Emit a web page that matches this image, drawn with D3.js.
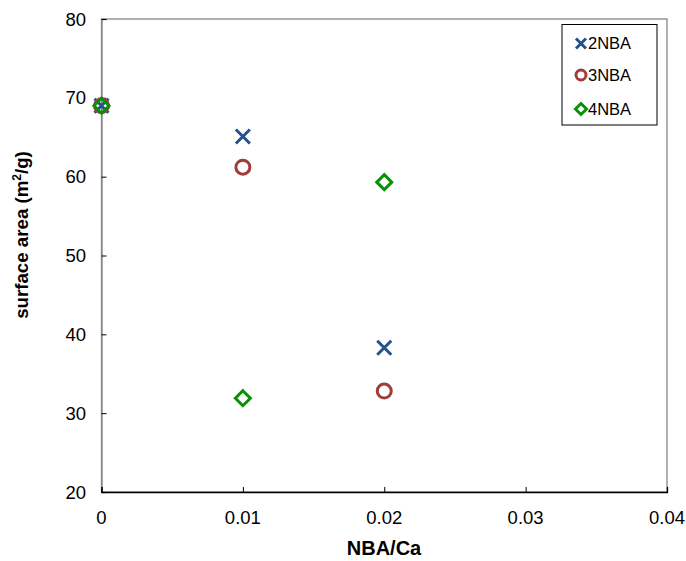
<!DOCTYPE html>
<html>
<head>
<meta charset="UTF-8">
<title>surface area</title>
<style>
  body { margin: 0; background: #fff; }
  text { font-family: "Liberation Sans", Arial, sans-serif; }
</style>
</head>
<body>
<script src="https://cdn.jsdelivr.net/npm/d3@7"></script>
<script>
// data
var xValues = [0, 0.01, 0.02]
var nba2 = [69, 65.1, 38.3]
var nba3 = [69, 61.2, 32.8]
var nba4 = [69, 31.9, 59.3]
var seriesNames = ["2NBA", "3NBA", "4NBA"]
var xTicks = [0, 0.01, 0.02, 0.03, 0.04]
var yTicks = [20, 30, 40, 50, 60, 70, 80]

var width = 686, height = 561
var margin = {top: 19, right: 19, bottom: 69, left: 101.5}

var svg = d3.select("body").append("svg")
  .attr("width", width).attr("height", height)

var x = d3.scaleLinear().domain([0, 0.04]).range([margin.left, width - margin.right])
var y = d3.scaleLinear().domain([20, 80]).range([height - margin.bottom, margin.top])

// frame
svg.append("rect")
  .attr("x", x(0)).attr("y", y(80))
  .attr("width", x(0.04) - x(0)).attr("height", y(20) - y(80))
  .attr("fill", "none").attr("stroke", "#868686").attr("stroke-width", 1.3)

// y axis
var yAxis = svg.append("g")
  .attr("transform", "translate(" + x(0) + ",0)")
  .call(d3.axisRight(y).tickValues(yTicks).tickSize(5).tickFormat(""))
yAxis.select(".domain").attr("stroke", "#868686").attr("stroke-width", 1.3)
yAxis.selectAll(".tick line").attr("stroke", "#000")
svg.selectAll(".ylab").data(yTicks).enter().append("text")
  .attr("x", 86).attr("y", function(d){ return y(d) })
  .attr("dy", "0.36em").attr("text-anchor", "end")
  .attr("font-size", "18.5px").text(function(d){ return d })

// x axis
var xAxis = svg.append("g")
  .attr("transform", "translate(0," + y(20) + ")")
  .call(d3.axisTop(x).tickValues(xTicks).tickSize(5).tickFormat(""))
xAxis.select(".domain").attr("stroke", "#000").attr("stroke-width", 1.3)
xAxis.selectAll(".tick line").attr("stroke", "#000")
svg.selectAll(".xlab").data(xTicks).enter().append("text")
  .attr("x", function(d){ return x(d) }).attr("y", 524)
  .attr("text-anchor", "middle")
  .attr("font-size", "18.5px").text(function(d){ return d })

// axis titles
svg.append("text")
  .attr("x", 384).attr("y", 555)
  .attr("text-anchor", "middle").attr("font-size", "20px").attr("font-weight", "bold")
  .text("NBA/Ca")
var yt = svg.append("text")
  .attr("transform", "translate(28,235) rotate(-90)")
  .attr("text-anchor", "middle").attr("font-size", "18.7px").attr("font-weight", "bold")
yt.append("tspan").text("surface area (m")
yt.append("tspan").attr("font-size", "12px").attr("dy", "-7").text("2")
yt.append("tspan").attr("dy", "7").text("/g)")

// markers
function drawX(g, cx, cy, r, color) {
  g.append("path")
    .attr("d", "M" + (cx - r) + "," + (cy - r) + "L" + (cx + r) + "," + (cy + r) +
               "M" + (cx - r) + "," + (cy + r) + "L" + (cx + r) + "," + (cy - r))
    .attr("stroke", color).attr("stroke-width", 3).attr("fill", "none")
}
function drawO(g, cx, cy, r, color) {
  g.append("circle").attr("cx", cx).attr("cy", cy).attr("r", r)
    .attr("stroke", color).attr("stroke-width", 3).attr("fill", "none")
}
function drawD(g, cx, cy, r, color) {
  g.append("path")
    .attr("d", "M" + cx + "," + (cy - r) + "L" + (cx + r) + "," + cy +
               "L" + cx + "," + (cy + r) + "L" + (cx - r) + "," + cy + "Z")
    .attr("stroke", color).attr("stroke-width", 3).attr("fill", "none")
}

var colors = ["#23528C", "#A03D3A", "#079107"]
var drawers = [drawX, drawO, drawD]
var series = [nba2, nba3, nba4]
var sizes = [7, 7, 7.5]

var marks = svg.append("g")
series.forEach(function(vals, s) {
  vals.forEach(function(v, i) {
    drawers[s](marks, x(xValues[i]), y(v), sizes[s], colors[s])
  })
})

// legend
var lg = svg.append("g")
lg.append("rect").attr("x", 562).attr("y", 24.5).attr("width", 95).attr("height", 100.5)
  .attr("fill", "#fff").attr("stroke", "#000").attr("stroke-width", 1)
var legendY = [43.5, 75, 109]
seriesNames.forEach(function(name, s) {
  drawers[s](lg, 581, legendY[s], s == 2 ? 5.5 : 5, colors[s])
  lg.append("text").attr("x", 588).attr("y", legendY[s]).attr("dy", "0.36em")
    .attr("font-size", "16.5px").text(name)
})
</script>
</body>
</html>
